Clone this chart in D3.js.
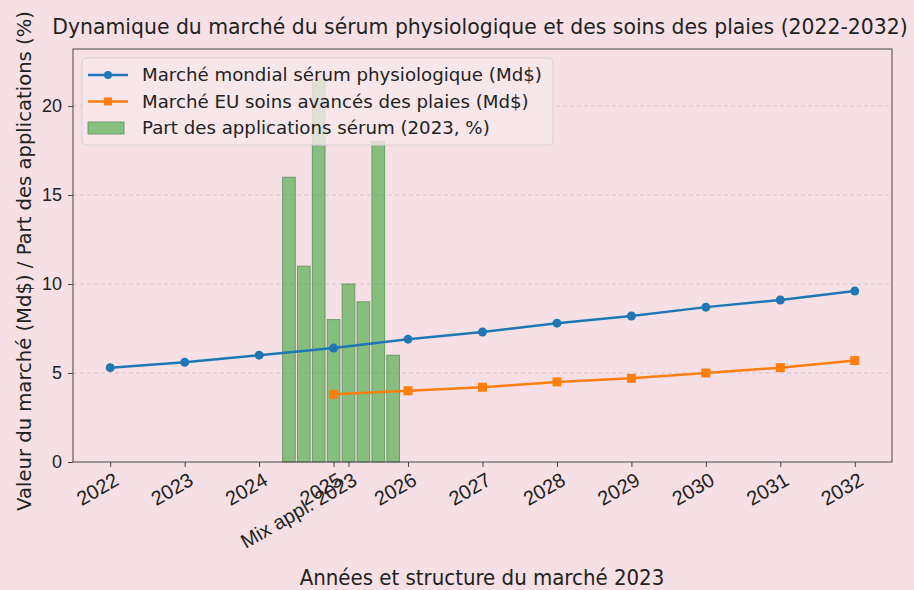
<!DOCTYPE html>
<html>
<head>
<meta charset="utf-8">
<script src="https://cdn.jsdelivr.net/npm/d3@7"></script>
<style>
  body { margin: 0; background: #f6e0e5; }
  svg { display: block; font-family: "DejaVu Sans", sans-serif; }
</style>
</head>
<body>
<svg id="chart"></svg>
<script>
var width = 914,
    height = 590,
    margin = {top: 49, right: 22, bottom: 128, left: 73};

// data
var years = [2022, 2023, 2024, 2025, 2026, 2027, 2028, 2029, 2030, 2031, 2032];
var globalSaline = [5.3, 5.6, 6.0, 6.4, 6.9, 7.3, 7.8, 8.2, 8.7, 9.1, 9.6];
var euYears = [2025, 2026, 2027, 2028, 2029, 2030, 2031, 2032];
var euWoundCare = [3.8, 4.0, 4.2, 4.5, 4.7, 5.0, 5.3, 5.7];
var appShares = [16, 11, 21.5, 8, 10, 9, 18, 6];
var yTicks = [0, 5, 10, 15, 20];
var mixLabel = "Mix appl. 2023";

var barStart = 2024.4, barStep = 0.2, barW = 0.17, mixTick = 2025.2;

var legendItems = [
  {label: "Marché mondial sérum physiologique (Md$)", type: "circle", color: "#1f77b4"},
  {label: "Marché EU soins avancés des plaies (Md$)", type: "square", color: "#ff7f0e"},
  {label: "Part des applications sérum (2023, %)", type: "bar", color: "#2ca02c"}
];

var svg = d3.select("#chart")
    .attr("width", width)
    .attr("height", height);

svg.append("rect").attr("width", width).attr("height", height).attr("fill", "#f6e0e5");

var x = d3.scaleLinear()
    .domain([2021.5, 2032.5])
    .range([margin.left, width - margin.right]);

var y = d3.scaleLinear()
    .domain([0, 23.2])
    .range([height - margin.bottom, margin.top]);

var bars = appShares.map(function(v, i) { return {x: barStart + barStep * i, v: v}; });

// grid
svg.append("g")
  .selectAll("line")
  .data(yTicks.slice(1))
  .join("line")
    .attr("x1", x.range()[0]).attr("x2", x.range()[1])
    .attr("y1", function(d) { return y(d); })
    .attr("y2", function(d) { return y(d); })
    .attr("stroke", "#d8c3c8")
    .attr("stroke-width", 0.9)
    .attr("stroke-dasharray", "4,3");

// bars
svg.append("g")
  .selectAll("rect")
  .data(bars)
  .join("rect")
    .attr("x", function(d) { return x(d.x - barW / 2); })
    .attr("width", x(barW) - x(0))
    .attr("y", function(d) { return y(d.v); })
    .attr("height", function(d) { return y(0) - y(d.v); })
    .attr("fill", "#2ca02c")
    .attr("fill-opacity", 0.55)
    .attr("stroke", "#5e8f58")
    .attr("stroke-opacity", 0.8)
    .attr("stroke-width", 1);

// lines
var line = d3.line()
    .x(function(d) { return x(d[0]); })
    .y(function(d) { return y(d[1]); });

var blue = years.map(function(yr, i) { return [yr, globalSaline[i]]; });
var orange = euYears.map(function(yr, i) { return [yr, euWoundCare[i]]; });

svg.append("path").datum(blue)
    .attr("d", line).attr("fill", "none")
    .attr("stroke", "#1f77b4").attr("stroke-width", 2.5);
svg.append("g").selectAll("circle").data(blue).join("circle")
    .attr("cx", function(d) { return x(d[0]); })
    .attr("cy", function(d) { return y(d[1]); })
    .attr("r", 4.5).attr("fill", "#1f77b4");

svg.append("path").datum(orange)
    .attr("d", line).attr("fill", "none")
    .attr("stroke", "#ff7f0e").attr("stroke-width", 2.5);
svg.append("g").selectAll("rect").data(orange).join("rect")
    .attr("x", function(d) { return x(d[0]) - 4.5; })
    .attr("y", function(d) { return y(d[1]) - 4.5; })
    .attr("width", 9).attr("height", 9)
    .attr("fill", "#ff7f0e");

// frame
svg.append("rect")
    .attr("x", margin.left).attr("y", margin.top)
    .attr("width", width - margin.left - margin.right)
    .attr("height", height - margin.top - margin.bottom)
    .attr("fill", "none").attr("stroke", "#444").attr("stroke-width", 1);

// axes
var yAxis = svg.append("g")
    .attr("transform", "translate(" + margin.left + ",0)")
    .call(d3.axisLeft(y).tickValues(yTicks).tickSize(5).tickPadding(6));
yAxis.select(".domain").remove();
yAxis.selectAll("text").attr("font-size", 18).attr("fill", "#222");
yAxis.selectAll("line").attr("stroke", "#444");

var xTickVals = years.concat([mixTick]);
var xAxis = svg.append("g")
    .attr("transform", "translate(0," + (height - margin.bottom) + ")")
    .call(d3.axisBottom(x).tickValues(xTickVals).tickSize(5)
      .tickFormat(function(d) { return d === mixTick ? mixLabel : d3.format("d")(d); }));
xAxis.select(".domain").remove();
xAxis.selectAll("line").attr("stroke", "#444");
xAxis.selectAll("text")
    .attr("font-size", 20)
    .attr("fill", "#222")
    .attr("text-anchor", "end")
    .attr("x", 0)
    .attr("y", 0)
    .attr("dy", "0.75em")
    .attr("transform", "translate(2,9) rotate(-30)");

// legend
var lg = svg.append("g").attr("transform", "translate(82,58)");
lg.append("rect")
    .attr("width", 471).attr("height", 87).attr("rx", 4)
    .attr("fill", "#f8e9ec").attr("fill-opacity", 0.8)
    .attr("stroke", "#d9d0d2").attr("stroke-width", 1);
var rows = lg.selectAll("g.row").data(legendItems).join("g")
    .attr("class", "row")
    .attr("transform", function(d, i) { return "translate(0," + (17 + i * 26.5) + ")"; });
rows.each(function(d) {
  var g = d3.select(this);
  if (d.type === "bar") {
    g.append("rect").attr("x", 6).attr("y", -6).attr("width", 36).attr("height", 12)
      .attr("fill", d.color).attr("fill-opacity", 0.55)
      .attr("stroke", "#5e8f58").attr("stroke-opacity", 0.8);
  } else {
    g.append("line").attr("x1", 6).attr("x2", 46)
      .attr("stroke", d.color).attr("stroke-width", 2.5);
    if (d.type === "circle") g.append("circle").attr("cx", 26).attr("r", 4).attr("fill", d.color);
    else g.append("rect").attr("x", 22).attr("y", -4).attr("width", 8).attr("height", 8).attr("fill", d.color);
  }
  g.append("text").attr("x", 60).attr("dy", "0.35em")
    .attr("font-size", 18.2).attr("fill", "#222").text(d.label);
});

// title and labels
svg.append("text")
    .attr("x", 480).attr("y", 34)
    .attr("text-anchor", "middle")
    .attr("font-size", 20.4).attr("fill", "#222")
    .text("Dynamique du marché du sérum physiologique et des soins des plaies (2022-2032)");

svg.append("text")
    .attr("x", 482).attr("y", 585)
    .attr("text-anchor", "middle")
    .attr("font-size", 22).attr("fill", "#222")
    .attr("font-family", "'Liberation Sans Narrow', 'DejaVu Sans Condensed', sans-serif")
    .text("Années et structure du marché 2023");

svg.append("text")
    .attr("transform", "translate(31,261) rotate(-90)")
    .attr("text-anchor", "middle")
    .attr("font-size", 19.6).attr("fill", "#222")
    .text("Valeur du marché (Md$) / Part des applications (%)");
</script>
</body>
</html>
